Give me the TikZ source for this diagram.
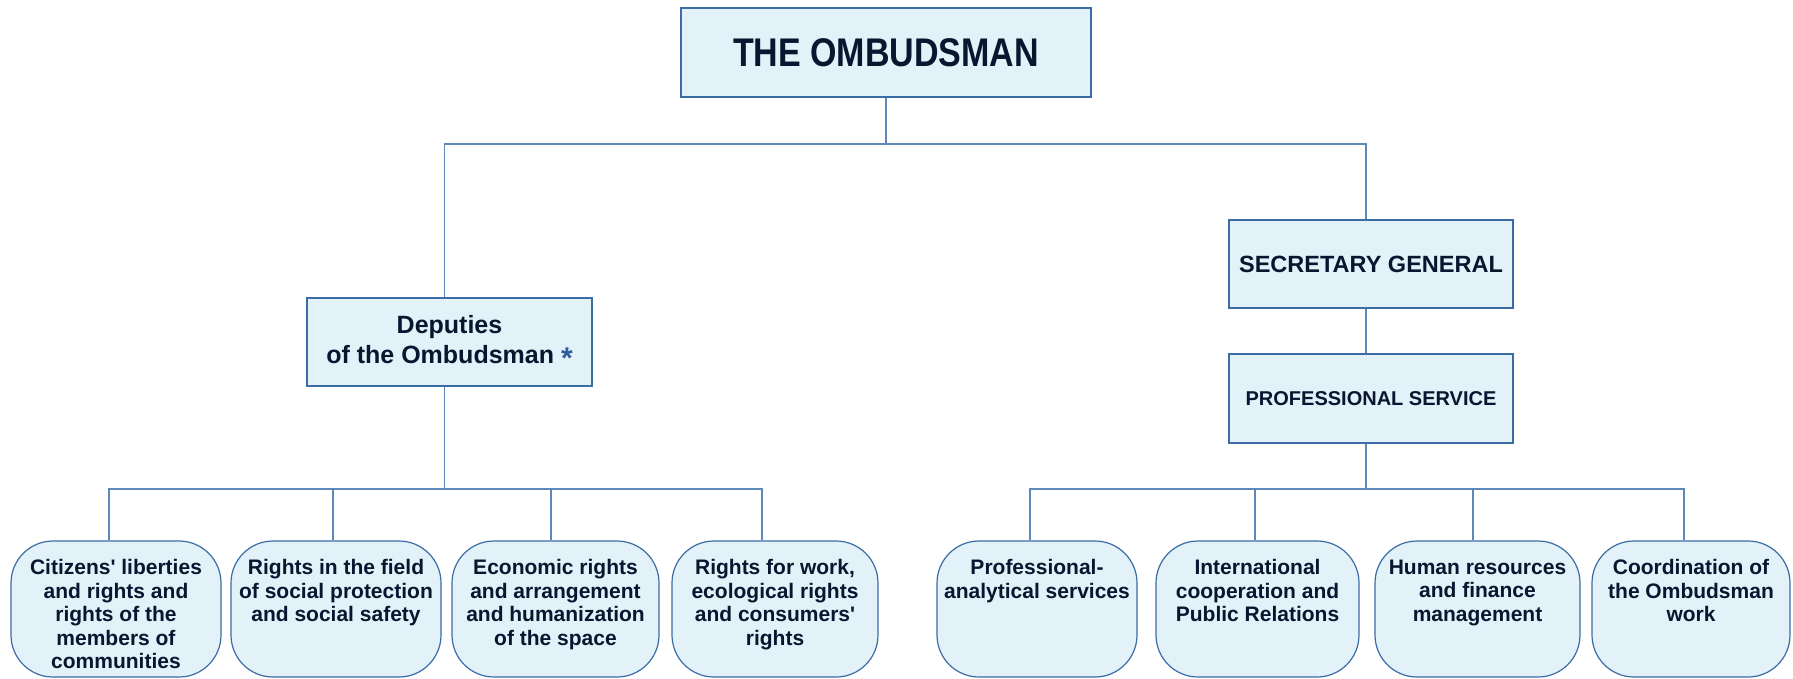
\documentclass[tikz,border=0pt]{standalone}
\usepackage{fontspec}
\setmainfont{Liberation Sans}
\usepackage{graphicx}
\definecolor{boxfill}{HTML}{E3F1F8}
\definecolor{boxline}{HTML}{3A6CA6}
\definecolor{conn}{HTML}{5C88BA}
\definecolor{txt}{HTML}{0A1630}
\definecolor{ast}{HTML}{2F5F99}
\begin{document}
\begin{tikzpicture}[x=1pt,y=-1pt,
  sqbox/.style={draw=boxline, fill=boxfill, line width=1.2pt, rectangle, inner sep=0pt, align=center, text=txt},
  rbox/.style={draw=boxline, fill=boxfill, line width=1.2pt, rounded corners=42pt, inner sep=0pt, minimum height=136pt},
  btxt/.style={anchor=north, inner sep=0pt, align=center, font=\fontsize{21}{23.5}\selectfont\bfseries, text=txt},
  link/.style={draw=conn, line width=1.4pt}]
\useasboundingbox (0,0) rectangle (1793,678);

\coordinate (topbus) at (0,144);
\coordinate (lbus) at (0,489);

% upper boxes
\node[sqbox, minimum width=410pt, minimum height=89pt, font=\fontsize{40}{44}\selectfont\bfseries] (omb) at (886,52.5)
  {\scalebox{0.85}[1]{THE OMBUDSMAN}};
\node[sqbox, minimum width=285pt, minimum height=88pt, font=\fontsize{25}{30}\selectfont\bfseries] (dep) at (449.5,342)
  {Deputies\hspace{24pt}\\ of the Ombudsman \textcolor{ast}{\raisebox{-5pt}{\scalebox{1.2}{*}}}};
\node[sqbox, minimum width=284pt, minimum height=88pt, font=\fontsize{23.5}{26}\selectfont\bfseries] (sec) at (1371,264)
  {SECRETARY GENERAL};
\node[sqbox, minimum width=284pt, minimum height=89pt, font=\fontsize{20}{24}\selectfont\bfseries] (prof) at (1371,398.5)
  {PROFESSIONAL SERVICE};

% bottom boxes
\node[rbox, minimum width=210pt] (b1) at (116,609) {};
\node[rbox, minimum width=210pt] (b2) at (336,609) {};
\node[rbox, minimum width=207pt] (b3) at (555.5,609) {};
\node[rbox, minimum width=206pt] (b4) at (775,609) {};
\node[rbox, minimum width=200pt] (b5) at (1037,609) {};
\node[rbox, minimum width=203pt] (b6) at (1257.5,609) {};
\node[rbox, minimum width=205pt] (b7) at (1477.5,609) {};
\node[rbox, minimum width=198pt] (b8) at (1691,609) {};

\node[btxt] (t1) at ([yshift=-19pt]b1.north) {Citizens\textquotesingle{} liberties\\and rights and\\rights of the\\members of\\communities};
\node[btxt] (t2) at ([yshift=-19pt]b2.north) {Rights in the field\\of social protection\\and social safety};
\node[btxt] (t3) at ([yshift=-19pt]b3.north) {Economic rights\\and arrangement\\and humanization\\of the space};
\node[btxt] (t4) at ([yshift=-19pt]b4.north) {Rights for work,\\ecological rights\\and consumers\textquotesingle\\rights};
\node[btxt] (t5) at ([yshift=-19pt]b5.north) {Professional-\\analytical services};
\node[btxt] (t6) at ([yshift=-19pt]b6.north) {International\\cooperation and\\Public Relations};
\node[btxt] (t7) at ([yshift=-19pt]b7.north) {Human resources\\and finance\\management};
\node[btxt] (t8) at ([yshift=-19pt]b8.north) {Coordination of\\the Ombudsman\\work};

% connectors
\draw[link] (omb.south) -- (omb.south |- topbus);
\draw[link] ([xshift=-5pt]dep.north) -- ([xshift=-5pt]dep.north |- topbus)
  -- ([xshift=-5pt]sec.north |- topbus) -- ([xshift=-5pt]sec.north);
\draw[link] ([xshift=-5pt]sec.south) -- ([xshift=-5pt]prof.north);

\draw[link] ([xshift=-5pt]dep.south) -- ([xshift=-5pt]dep.south |- lbus);
\draw[link] ([xshift=-7pt]b1.north) -- ([xshift=-7pt]b1.north |- lbus)
  -- ([xshift=-13pt]b4.north |- lbus) -- ([xshift=-13pt]b4.north);
\draw[link] ([xshift=-3pt]b2.north) -- ([xshift=-3pt]b2.north |- lbus);
\draw[link] ([xshift=-4.5pt]b3.north) -- ([xshift=-4.5pt]b3.north |- lbus);

\draw[link] ([xshift=-5pt]prof.south) -- ([xshift=-5pt]prof.south |- lbus);
\draw[link] ([xshift=-7pt]b5.north) -- ([xshift=-7pt]b5.north |- lbus)
  -- ([xshift=-7pt]b8.north |- lbus) -- ([xshift=-7pt]b8.north);
\draw[link] ([xshift=-2.5pt]b6.north) -- ([xshift=-2.5pt]b6.north |- lbus);
\draw[link] ([xshift=-4.5pt]b7.north) -- ([xshift=-4.5pt]b7.north |- lbus);
\end{tikzpicture}
\end{document}
